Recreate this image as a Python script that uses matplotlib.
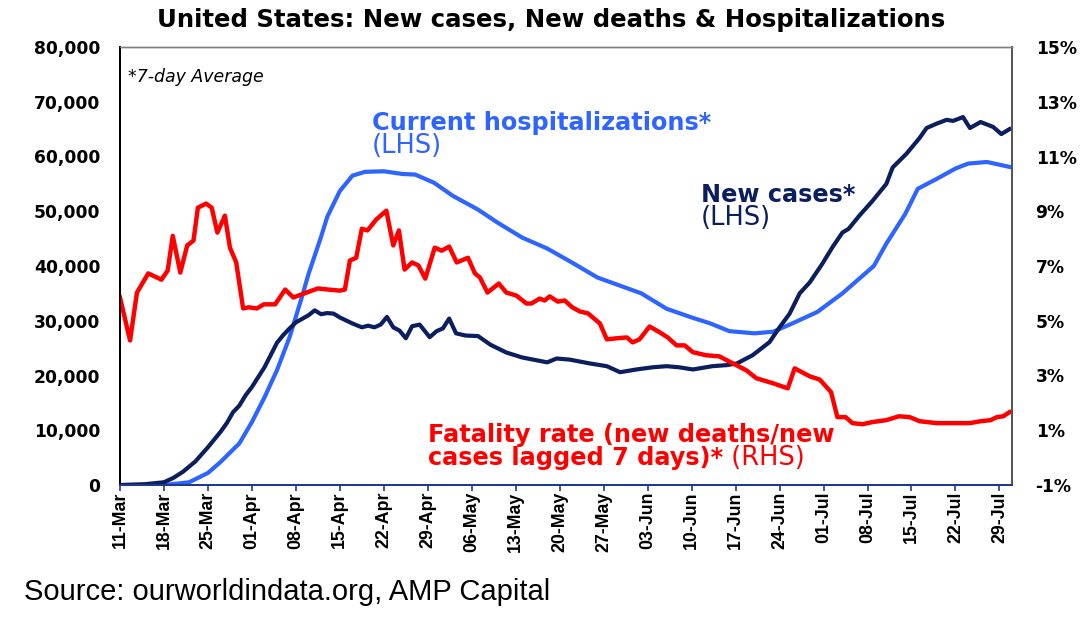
import matplotlib
matplotlib.use("Agg")
import matplotlib.pyplot as plt

# ---------------- data (day 0 = 11-Mar-2020) ----------------
case_days = [0, 4, 7, 8.5, 10, 12, 14, 16, 17, 18, 19, 20, 21, 23, 25, 26, 27, 28, 30, 31,
             32, 33, 34, 35, 37, 38.5, 39.5, 40.5, 41.5, 42.5, 43.5, 44.5, 45.5, 46.5, 47.7,
             49.3, 50.4, 51.4, 52.4, 53.5, 55, 57, 59, 61.5, 64, 68, 69.5, 71.6, 74.8, 77.5,
             79.6, 82.2, 84.8, 87, 89, 91.2, 94.3, 96.6, 98.2, 100.7, 103.4, 105, 106.6,
             108.2, 109.8, 111.8, 113.4, 115, 116, 117.7, 119.8, 122, 123, 125.2, 127.3,
             128.4, 130, 131.6, 132.6, 134.2, 135.3, 137, 139, 140.3, 141.6]
new_cases = [0, 150, 500, 1300, 2400, 4300, 6900, 9700, 11300, 13300, 14500, 16400, 17900,
             21500, 26000, 27400, 28600, 29700, 31000, 31900, 31200, 31400, 31300, 30600,
             29500, 28800, 29100, 28800, 29300, 30700, 28800, 28200, 26800, 29000, 29300,
             27000, 28100, 28600, 30400, 27700, 27300, 27200, 25600, 24200, 23300, 22400,
             23100, 22900, 22200, 21700, 20600, 21100, 21500, 21700, 21500, 21100, 21700,
             21900, 22200, 23700, 26100, 28800, 31300, 35000, 37000, 40400, 43400, 46100,
             46800, 49200, 51900, 55000, 58000, 60500, 63400, 65200, 66000, 66700, 66500,
             67200, 65200, 66300, 65400, 64100, 65000]

hosp_days = [7, 11, 14, 16, 19, 21, 23, 25, 27, 29, 30, 32, 33, 35, 37, 39, 42, 45, 47, 50,
             53, 57, 60, 64, 68, 72, 76, 83, 87, 91, 94, 97, 101, 104, 107, 111, 115, 120,
             122, 125, 127, 130, 133, 135, 138, 142]
hospitalizations = [0, 500, 2200, 4200, 7600, 11500, 16000, 21000, 27000, 34500, 38500,
                    45300, 49000, 53700, 56500, 57200, 57300, 56800, 56700, 55200, 52800,
                    50300, 48000, 45200, 43200, 40600, 37900, 35000, 32200, 30600, 29500,
                    28100, 27700, 28000, 29500, 31600, 35000, 40000, 44100, 49500, 54100,
                    55900, 57800, 58700, 59000, 58000]

fat_days = [0, 1.6, 2.7, 4.5, 6.6, 7.6, 8.4, 9.6, 10.7, 11.7, 12.4, 13.7, 14.6, 15.5, 16.7,
            17.5, 18.5, 19.6, 20.5, 21.8, 22.9, 24.7, 26.3, 27.6, 29.7, 31.5, 33.1, 35, 35.8,
            36.6, 37.6, 38.5, 39.4, 40.8, 42.4, 43.5, 44.4, 45.3, 46.5, 47.5, 48.6, 50.1,
            51.2, 52.4, 53.6, 55.4, 56.5, 57.3, 58.5, 60.3, 61.5, 63.1, 64.7, 65.5, 66.8,
            67.6, 68.4, 69.7, 70.8, 72, 73.2, 74.5, 76.4, 77.5, 79.1, 80.7, 81.6, 82.7, 84.3,
            85.9, 87.2, 88.6, 89.9, 91.2, 93.3, 95.4, 97.5, 99.7, 101.3, 103.9, 106.3, 107.4,
            109.8, 111.4, 113.2, 114.2, 115.5, 116.6, 118.2, 119.8, 122, 124, 125.7, 127.3,
            130, 132.6, 135.3, 137, 138.6, 139.6, 140.6, 141.6]
fatality_rate = [5.85, 4.28, 6.03, 6.73, 6.5, 6.84, 8.1, 6.76, 7.75, 7.93, 9.13, 9.28, 9.13,
                 8.22, 8.84, 7.67, 7.13, 5.45, 5.49, 5.45, 5.6, 5.6, 6.14, 5.85, 6.03, 6.18,
                 6.14, 6.1, 6.14, 7.2, 7.3, 8.36, 8.3, 8.7, 9.02, 7.75, 8.3, 6.87, 7.13, 7.02,
                 6.54, 7.67, 7.56, 7.71, 7.13, 7.3, 6.73, 6.58, 6.03, 6.36, 6.03, 5.92, 5.63,
                 5.63, 5.81, 5.74, 5.89, 5.7, 5.74, 5.49, 5.34, 5.27, 4.9, 4.32, 4.36, 4.39,
                 4.21, 4.32, 4.79, 4.58, 4.39, 4.1, 4.1, 3.85, 3.74, 3.7, 3.45, 3.19, 2.9,
                 2.72, 2.53, 3.26, 2.97, 2.85, 2.39, 1.48, 1.48, 1.26, 1.22, 1.3, 1.37, 1.51,
                 1.48, 1.33, 1.26, 1.26, 1.26, 1.33, 1.37, 1.48, 1.51, 1.66]

tick_days = list(range(0, 141, 7))
tick_labels = ["11-Mar", "18-Mar", "25-Mar", "01-Apr", "08-Apr", "15-Apr", "22-Apr",
               "29-Apr", "06-May", "13-May", "20-May", "27-May", "03-Jun", "10-Jun",
               "17-Jun", "24-Jun", "01-Jul", "08-Jul", "15-Jul", "22-Jul", "29-Jul"]
left_ticks = list(range(0, 80001, 10000))
right_ticks = list(range(-1, 16, 2))

# ---------------- styling ----------------
NAVY = "#0B1F5E"
BLUE = "#2E64FF"
RED = "#FF0000"
W, H = 1089, 622

fig = plt.figure(figsize=(W / 100, H / 100), dpi=100)
ax = fig.add_axes([120 / W, 1 - 485 / H, (1012 - 120) / W, (485 - 47) / H])
ax2 = ax.twinx()

ax.plot(case_days, new_cases, color=NAVY, lw=3.0, solid_joinstyle="round", zorder=3)
ax.plot(hosp_days, hospitalizations, color=BLUE, lw=3.0, solid_joinstyle="round", zorder=2)
ax2.plot(fat_days, fatality_rate, color=RED, lw=3.2, solid_joinstyle="round")

ax.set_xlim(0, 142)
ax.set_ylim(0, 80000)
ax2.set_ylim(-1, 15)

ax.set_yticks(left_ticks)
ax.set_yticklabels([f"{v:,}" for v in left_ticks], fontfamily="DejaVu Sans",
                   fontweight="bold", fontsize=12.3)
ax2.set_yticks(right_ticks)
ax2.set_yticklabels([f"{v}%" for v in right_ticks], fontfamily="DejaVu Sans",
                    fontweight="bold", fontsize=12.3)
ax.tick_params(axis="y", length=0, pad=14)
ax2.tick_params(axis="y", length=0, pad=17)

ax.set_xticks(tick_days)
ax.set_xticklabels(tick_labels, rotation=90, fontfamily="Liberation Sans",
                   fontweight="bold", fontsize=12.8, va="top", ha="center")
ax.tick_params(axis="x", direction="out", length=4, width=1.2, color="#1F3A8A", pad=1)

for a in (ax, ax2):
    a.spines["top"].set_color("#7F7F7F")
    a.spines["top"].set_linewidth(1.0)
    a.spines["left"].set_color("black")
    a.spines["left"].set_linewidth(1.3)
    a.spines["right"].set_color("#555555")
    a.spines["right"].set_linewidth(1.3)
    a.spines["bottom"].set_color("#1F3A8A")
    a.spines["bottom"].set_linewidth(1.4)


def ftext(x, y, s, **kw):
    return fig.text(x / W, 1 - y / H, s, va="baseline", **kw)


ftext(157, 26.5, "United States: New cases, New deaths & Hospitalizations",
      fontfamily="DejaVu Sans", fontweight="bold", fontsize=17.6, color="black")
ftext(128, 81.5, "*7-day Average", fontfamily="DejaVu Sans", style="italic",
      fontsize=12.5, color="black")
ftext(372, 130, "Current hospitalizations*", fontfamily="DejaVu Sans",
      fontweight="bold", fontsize=17.3, color=BLUE)
ftext(372, 153, "(LHS)", fontfamily="DejaVu Sans", fontsize=18.5, color=BLUE)
ftext(701, 202, "New cases*", fontfamily="DejaVu Sans", fontweight="bold",
      fontsize=17.3, color=NAVY)
ftext(701, 225, "(LHS)", fontfamily="DejaVu Sans", fontsize=18.5, color=NAVY)
ftext(428, 442, "Fatality rate (new deaths/new", fontfamily="DejaVu Sans",
      fontweight="bold", fontsize=17.3, color=RED)
t2 = ftext(428, 465, "cases lagged 7 days)*", fontfamily="DejaVu Sans",
           fontweight="bold", fontsize=17.3, color=RED)
fig.canvas.draw()
bb = t2.get_window_extent()
fig.text(bb.x1 / W, 1 - 465 / H, " (RHS)", va="baseline", fontfamily="DejaVu Sans",
         fontsize=18.5, color=RED)

ftext(24, 600, "Source: ourworldindata.org, AMP Capital", fontfamily="Liberation Sans",
      fontsize=21, color="black")

fig.savefig("out.png", dpi=100)
